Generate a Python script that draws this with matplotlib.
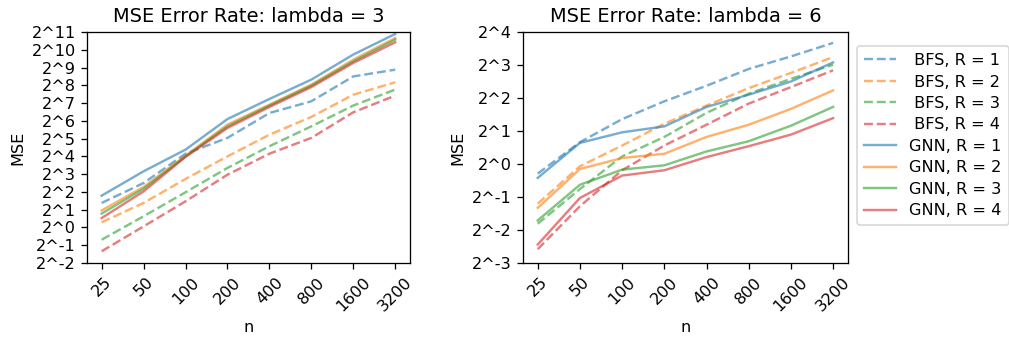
import numpy as np
import matplotlib
matplotlib.use("Agg")
import matplotlib.pyplot as plt

n_labels = ["25", "50", "100", "200", "400", "800", "1600", "3200"]
colors = ["tab:blue", "tab:orange", "tab:green", "tab:red"]

# log2(MSE), lambda = 3
bfs_l3 = [
    [1.38, 2.50, 4.15, 5.04, 6.44, 7.10, 8.50, 8.88],
    [0.29, 1.38, 2.73, 4.00, 5.22, 6.22, 7.47, 8.17],
    [-0.69, 0.63, 1.98, 3.35, 4.57, 5.69, 6.86, 7.76],
    [-1.34, 0.06, 1.47, 2.97, 4.15, 5.04, 6.48, 7.42],
]
gnn_l3 = [
    [1.79, 3.16, 4.38, 6.10, 7.23, 8.32, 9.73, 10.89],
    [0.96, 2.28, 4.04, 5.79, 6.91, 8.04, 9.44, 10.66],
    [0.78, 2.18, 4.00, 5.69, 6.86, 7.98, 9.35, 10.57],
    [0.53, 2.03, 3.97, 5.60, 6.78, 7.90, 9.26, 10.42],
]

# log2(MSE), lambda = 6
bfs_l6 = [
    [-0.29, 0.66, 1.36, 1.90, 2.37, 2.88, 3.26, 3.67],
    [-1.20, -0.07, 0.56, 1.22, 1.77, 2.30, 2.76, 3.24],
    [-1.81, -0.76, 0.23, 0.82, 1.55, 2.13, 2.58, 3.01],
    [-2.58, -1.28, -0.19, 0.56, 1.19, 1.83, 2.33, 2.84],
]
gnn_l6 = [
    [-0.42, 0.64, 0.96, 1.14, 1.73, 2.10, 2.50, 3.08],
    [-1.33, -0.15, 0.18, 0.31, 0.82, 1.19, 1.67, 2.23],
    [-1.71, -0.63, -0.17, -0.04, 0.38, 0.69, 1.16, 1.73],
    [-2.44, -1.03, -0.35, -0.19, 0.21, 0.54, 0.89, 1.39],
]

dpi = 116
fig = plt.figure(figsize=(1009 / dpi, 339 / dpi), dpi=dpi)
ax1 = fig.add_axes([0.0862, 0.2242, 0.320, 0.6814])
ax2 = fig.add_axes([0.5183, 0.2242, 0.322, 0.6814])

x = np.arange(len(n_labels))


def draw(ax, bfs, gnn, lam, ylo, yhi):
    for r in range(4):
        ax.plot(x, bfs[r], "--", color=colors[r], alpha=0.6, label=f" BFS, R = {r + 1}")
    for r in range(4):
        ax.plot(x, gnn[r], "-", color=colors[r], alpha=0.6, label=f"GNN, R = {r + 1}")
    ax.set_xticks(x)
    ax.set_xticklabels(n_labels, rotation=45)
    ticks = list(range(ylo, yhi + 1))
    ax.set_yticks(ticks)
    ax.set_yticklabels([f"2^{t}" for t in ticks])
    ax.set_ylim(ylo, yhi)
    ax.set_xlim(-0.35, 7.35)
    ax.set_xlabel("n")
    ax.set_ylabel("MSE")
    ax.set_title(f"MSE Error Rate: lambda = {lam}", fontsize=12)


draw(ax1, bfs_l3, gnn_l3, 3, -2, 11)
draw(ax2, bfs_l6, gnn_l6, 6, -3, 4)

ax2.legend(loc="upper left", bbox_to_anchor=(1.028, 0.94), borderaxespad=0,
           labelspacing=0.4, borderpad=0.45)

fig.savefig("out.png", dpi=dpi)
